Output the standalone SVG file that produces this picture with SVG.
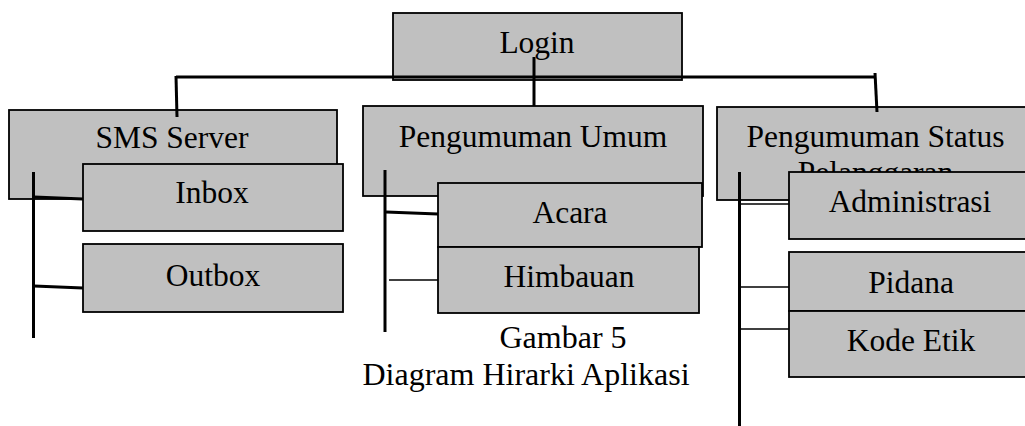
<svg xmlns="http://www.w3.org/2000/svg" width="1025" height="426" viewBox="0 0 1025 426">
<style>
.box{fill:#c0c0c0;stroke:#000;stroke-width:1.8}
.t{font-family:"Liberation Serif","Times New Roman",serif;font-size:31.5px;fill:#000;text-anchor:middle}
.cap{font-size:32px}
.thick{stroke:#000;stroke-width:3;fill:none}
.thin{stroke:#000;stroke-width:1.6;fill:none}
</style>
<defs>
<clipPath id="psclip"><rect x="717" y="100" width="320" height="72"/></clipPath>
</defs>
<rect width="1025" height="426" fill="#fff"/>
<g id="login">
<rect class="box" x="393" y="13" width="289" height="67"/>
<text class="t" x="537" y="53">Login</text>
</g>
<g id="sms-server">
<rect class="box" x="9" y="110" width="328" height="89"/>
<text class="t" x="172" y="148">SMS Server</text>
</g>
<g id="inbox">
<rect class="box" x="83" y="164" width="260" height="67"/>
<text class="t" x="212" y="203">Inbox</text>
</g>
<g id="outbox">
<rect class="box" x="83" y="244" width="260" height="68"/>
<text class="t" x="213" y="286">Outbox</text>
</g>
<g id="pengumuman-umum">
<rect class="box" x="363" y="106" width="340" height="90"/>
<text class="t" x="533" y="147">Pengumuman Umum</text>
</g>
<g id="acara">
<rect class="box" x="438" y="183" width="264" height="64"/>
<text class="t" x="570" y="223">Acara</text>
</g>
<g id="himbauan">
<rect class="box" x="438" y="247" width="261" height="66"/>
<text class="t" x="569" y="287">Himbauan</text>
</g>
<g id="pengumuman-status">
<rect class="box" x="717" y="107" width="320" height="93"/>
<text class="t" x="875.5" y="147">Pengumuman Status</text>
<text class="t" x="875.5" y="183" clip-path="url(#psclip)">Pelanggaran</text>
</g>
<g id="administrasi">
<rect class="box" x="789" y="172" width="250" height="67"/>
<text class="t" x="910" y="212">Administrasi</text>
</g>
<g id="pidana">
<rect class="box" x="789" y="252" width="250" height="59"/>
<text class="t" x="911" y="293">Pidana</text>
</g>
<g id="kode-etik">
<rect class="box" x="789" y="311" width="250" height="66"/>
<text class="t" x="911" y="351">Kode Etik</text>
</g>
<g id="connectors">
<path class="thick" d="M176,77 H876"/>
<path class="thick" d="M534,57 V106"/>
<path class="thick" d="M176,76 L177,117"/>
<path class="thick" d="M875,73 L877,112"/>
<path class="thick" d="M33.5,172 V338"/>
<path class="thick" d="M34,197 L83,199"/>
<path class="thick" d="M34,286 L83,288"/>
<path class="thick" d="M385,170 V332"/>
<path class="thick" d="M386,212 L438,214"/>
<path class="thin" d="M389,280 H438"/>
<path class="thick" d="M739.5,172 V426"/>
<path class="thin" d="M741,204 H789"/>
<path class="thin" d="M741,287 H789"/>
<path class="thin" d="M741,329 H789"/>
</g>
<g id="caption">
<text class="t cap" x="563" y="348">Gambar 5</text>
<text class="t cap" x="526" y="385">Diagram Hirarki Aplikasi</text>
</g>
</svg>
